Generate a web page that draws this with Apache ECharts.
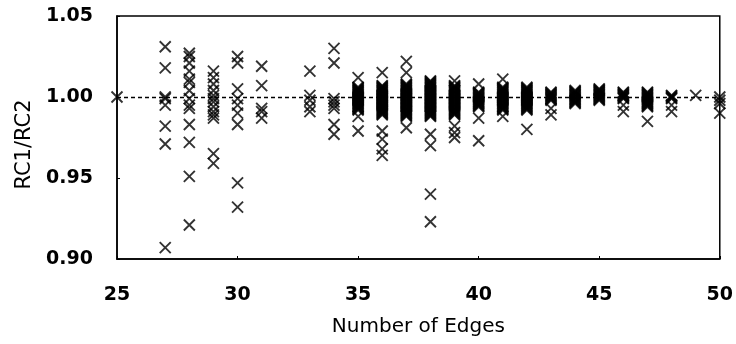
<!DOCTYPE html>
<html lang="en">
<head>
  <meta charset="UTF-8">
  <title>RC1/RC2 vs Number of Edges</title>
  <style>
    html, body { margin: 0; padding: 0; background: #fff; }
  </style>
</head>
<body>
  <div id="main" style="width:736px;height:344px"></div>

  <script src="https://cdn.jsdelivr.net/npm/echarts@6/dist/echarts.min.js"></script>

  <script>
    // number of edges, one entry per column of crosses
    var edges = [25, 27, 28, 29, 30, 31, 33, 34, 35, 36, 37, 38, 39, 40, 41, 42, 43, 44, 45, 46, 47, 48, 49, 50]

    // RC1/RC2 ratios, same order as edges
    var ratios = [
      [1.000],
      [1.031, 1.018, 1.000, 0.999, 0.995, 0.982, 0.971, 0.907],
      [1.027, 1.025, 1.021, 1.016, 1.011, 1.009, 1.004, 0.999, 0.995, 0.993, 0.983, 0.972, 0.951, 0.921],
      [1.016, 1.012, 1.008, 1.004, 1.001, 0.999, 0.997, 0.994, 0.991, 0.989, 0.987, 0.965, 0.959],
      [1.025, 1.021, 1.005, 0.999, 0.995, 0.990, 0.983, 0.947, 0.932],
      [1.019, 1.007, 0.993, 0.991, 0.987],
      [1.016, 1.001, 0.998, 0.994, 0.991],
      [1.030, 1.021, 0.999, 0.997, 0.995, 0.993, 0.983, 0.977],
      [1.012, 1.006, 1.0055, 1.005, 1.0045, 1.004, 1.0035, 1.003, 1.0025, 1.002, 1.0015, 1.001, 1.0005, 1.000, 0.9995, 0.999, 0.9985, 0.998, 0.9975, 0.997, 0.9965, 0.996, 0.9955, 0.995, 0.9945, 0.994, 0.9935, 0.993, 0.9925, 0.992, 0.988, 0.979],
      [1.015, 1.007, 1.0065, 1.006, 1.0055, 1.005, 1.0045, 1.004, 1.0035, 1.003, 1.0025, 1.002, 1.0015, 1.001, 1.0005, 1.000, 0.9995, 0.999, 0.9985, 0.998, 0.9975, 0.997, 0.9965, 0.996, 0.9955, 0.995, 0.9945, 0.994, 0.9935, 0.993, 0.9925, 0.992, 0.9915, 0.991, 0.9905, 0.990, 0.9895, 0.989, 0.979, 0.974, 0.968, 0.964],
      [1.022, 1.015, 1.008, 1.0075, 1.007, 1.0065, 1.006, 1.0055, 1.005, 1.0045, 1.004, 1.0035, 1.003, 1.0025, 1.002, 1.0015, 1.001, 1.0005, 1.000, 0.9995, 0.999, 0.9985, 0.998, 0.9975, 0.997, 0.9965, 0.996, 0.9955, 0.995, 0.9945, 0.994, 0.9935, 0.993, 0.9925, 0.992, 0.9915, 0.991, 0.9905, 0.990, 0.9895, 0.989, 0.9885, 0.988, 0.981],
      [1.010, 1.0095, 1.009, 1.0085, 1.008, 1.0075, 1.007, 1.0065, 1.006, 1.0055, 1.005, 1.0045, 1.004, 1.0035, 1.003, 1.0025, 1.002, 1.0015, 1.001, 1.0005, 1.000, 0.9995, 0.999, 0.9985, 0.998, 0.9975, 0.997, 0.9965, 0.996, 0.9955, 0.995, 0.9945, 0.994, 0.9935, 0.993, 0.9925, 0.992, 0.9915, 0.991, 0.9905, 0.990, 0.9895, 0.989, 0.9885, 0.988, 0.977, 0.970, 0.940, 0.923],
      [1.010, 1.007, 1.0065, 1.006, 1.0055, 1.005, 1.0045, 1.004, 1.0035, 1.003, 1.0025, 1.002, 1.0015, 1.001, 1.0005, 1.000, 0.9995, 0.999, 0.9985, 0.998, 0.9975, 0.997, 0.9965, 0.996, 0.9955, 0.995, 0.9945, 0.994, 0.9935, 0.993, 0.9925, 0.992, 0.9915, 0.991, 0.9905, 0.990, 0.9895, 0.989, 0.982, 0.978, 0.975],
      [1.008, 1.003, 1.0025, 1.002, 1.0015, 1.001, 1.0005, 1.000, 0.9995, 0.999, 0.9985, 0.998, 0.9975, 0.997, 0.9965, 0.996, 0.9955, 0.995, 0.9945, 0.994, 0.987, 0.973],
      [1.011, 1.006, 1.0055, 1.005, 1.0045, 1.004, 1.0035, 1.003, 1.0025, 1.002, 1.0015, 1.001, 1.0005, 1.000, 0.9995, 0.999, 0.9985, 0.998, 0.9975, 0.997, 0.9965, 0.996, 0.9955, 0.995, 0.9945, 0.994, 0.9935, 0.993, 0.9925, 0.992, 0.988],
      [1.006, 1.0055, 1.005, 1.0045, 1.004, 1.0035, 1.003, 1.0025, 1.002, 1.0015, 1.001, 1.0005, 1.000, 0.9995, 0.999, 0.9985, 0.998, 0.9975, 0.997, 0.9965, 0.996, 0.9955, 0.995, 0.9945, 0.994, 0.9935, 0.993, 0.9925, 0.992, 0.980],
      [1.003, 1.0025, 1.002, 1.0015, 1.001, 1.0005, 1.000, 0.9995, 0.999, 0.9985, 0.998, 0.993, 0.989],
      [1.004, 1.0035, 1.003, 1.0025, 1.002, 1.0015, 1.001, 1.0005, 1.000, 0.9995, 0.999, 0.9985, 0.998, 0.9975, 0.997, 0.9965, 0.996],
      [1.005, 1.0045, 1.004, 1.0035, 1.003, 1.0025, 1.002, 1.0015, 1.001, 1.0005, 1.000, 0.9995, 0.999, 0.9985, 0.998],
      [1.003, 1.0025, 1.002, 1.0015, 1.001, 1.0005, 1.000, 0.9995, 0.999, 0.995, 0.991],
      [1.003, 1.0025, 1.002, 1.0015, 1.001, 1.0005, 1.000, 0.9995, 0.999, 0.9985, 0.998, 0.9975, 0.997, 0.9965, 0.996, 0.9955, 0.995, 0.9945, 0.994, 0.985],
      [1.001, 1.0005, 1.000, 0.9995, 0.999, 0.995, 0.991],
      [1.001],
      [1.000, 0.998, 0.996, 0.990]
    ]

    var refLevel = 1.00
    var xTicks = [25, 50, 5]        // min, max, step
    var yTicks = [0.90, 1.05, 0.05] // min, max, step

    var points = []
    edges.forEach(function (e, i) {
      ratios[i].forEach(function (r) { points.push([e, r]) })
    })

    var myChart = echarts.init(document.getElementById('main'))
    var font = 'DejaVu Sans'

    var options = {
      animation: false,
      grid: {
        left: 117, right: 12, top: 16, bottom: 85,
        show: true, borderColor: '#000', borderWidth: 1.5
      },
      xAxis: {
        type: 'value',
        min: xTicks[0], max: xTicks[1], interval: xTicks[2],
        name: 'Number of Edges',
        nameLocation: 'middle',
        nameGap: 58,
        nameTextStyle: { fontFamily: font, fontSize: 20, color: '#000' },
        axisLine: { show: true, lineStyle: { color: '#000', width: 1.5 } },
        axisTick: { show: true, inside: true, length: 3, lineStyle: { color: '#000' } },
        axisLabel: { fontFamily: font, fontSize: 19, fontWeight: 'bold', color: '#000', margin: 27 },
        splitLine: { show: false }
      },
      yAxis: {
        type: 'value',
        min: yTicks[0], max: yTicks[1], interval: yTicks[2],
        name: 'RC1/RC2',
        nameLocation: 'middle',
        nameGap: 76,
        nameTextStyle: { fontFamily: font, fontSize: 21, color: '#000', padding: [0, 0, 0, -14] },
        axisLine: { show: true, lineStyle: { color: '#000', width: 1.5 } },
        axisTick: { show: true, inside: true, length: 3, lineStyle: { color: '#000' } },
        axisLabel: {
          fontFamily: font, fontSize: 19, fontWeight: 'bold', color: '#000', margin: 24,
          formatter: function (v) { return v.toFixed(2) }
        },
        splitLine: { show: false }
      },
      series: [
        {
          type: 'scatter',
          data: points,
          clip: false,
          symbol: 'path://M0,0L12,12M12,0L0,12',
          symbolSize: 11,
          itemStyle: { color: 'rgba(0,0,0,0)', borderColor: '#000', borderWidth: 1.9 },
          markLine: {
            silent: true,
            symbol: 'none',
            label: { show: false },
            lineStyle: { color: '#000', width: 1.3, type: [4, 3] },
            data: [{ yAxis: refLevel }]
          }
        }
      ]
    }
    myChart.setOption(options)
  </script>
</body>
</html>
